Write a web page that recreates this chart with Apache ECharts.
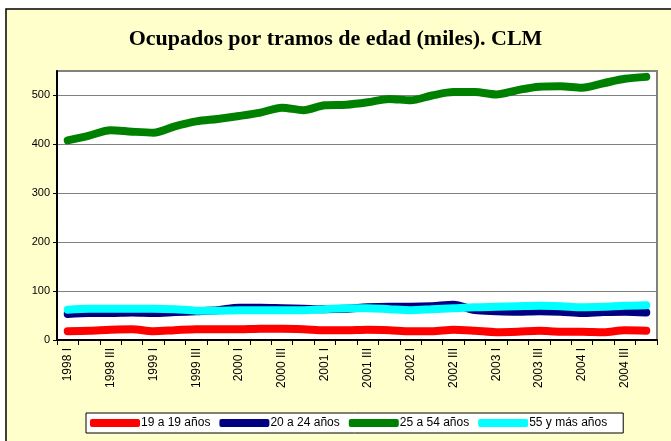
<!DOCTYPE html>
<html>
<head>
<meta charset="utf-8">
<script src="https://cdn.jsdelivr.net/npm/echarts@6/dist/echarts.min.js"></script>
<style>
  html, body { margin: 0; padding: 0; background: #fff; overflow: hidden; }
  #chart { width: 671px; height: 441px; }
</style>
</head>
<body>
<div id="chart"></div>
<script>
// trimestres 1998 I .. 2004 IV
var years = ['1998', '1999', '2000', '2001', '2002', '2003', '2004'];
var quarters = ['I', 'II', 'III', 'IV'];
var categories = [];
years.forEach(function (y) {
    quarters.forEach(function (q) { categories.push(y + ' ' + q); });
});

// ocupados (miles)
var edad16_19 = [18, 19, 21, 22, 18, 20, 22, 22, 22, 23, 23, 22, 20, 20,
                 21, 20, 18, 18, 21, 19, 16, 17, 19, 17, 17, 16, 20, 19];
var edad20_24 = [53, 55, 55, 56, 55, 57, 59, 61, 66, 66, 65, 64, 63, 64,
                 67, 68, 68, 69, 72, 61, 59, 58, 59, 58, 55, 57, 58, 56];
var edad25_54 = [408, 418, 429, 426, 424, 437, 447, 452, 458, 465, 475, 470, 480, 481,
                 486, 493, 490, 500, 507, 507, 502, 511, 518, 519, 516, 525, 534, 538];
var edad55 = [62, 64, 64, 64, 64, 63, 60, 60, 61, 61, 61, 61, 63, 65,
              65, 63, 61, 63, 65, 67, 68, 69, 70, 69, 67, 68, 70, 71];

var names = ['19 a 19 años', '20 a 24 años', '25 a 54 años', '55 y más años'];
var colors = ['#ff0000', '#000080', '#008000', '#00ffff'];
var values = [edad16_19, edad20_24, edad25_54, edad55];

var chart = echarts.init(document.getElementById('chart'));

var series = values.map(function (v, i) {
    return {
        name: names[i],
        type: 'line',
        data: v,
        smooth: 0.3,
        showSymbol: false,
        symbol: 'none',
        lineStyle: { color: colors[i], width: 8, cap: 'round', join: 'round' },
        itemStyle: { color: colors[i] }
    };
});

var option = {
    backgroundColor: '#ffffff',
    animation: false,
    graphic: [{
        type: 'rect',
        silent: true,
        z: -10,
        shape: { x: 6, y: 9, width: 700, height: 460 },
        style: { fill: '#ffffcc', stroke: '#000000', lineWidth: 1.5 }
    }],
    title: {
        text: 'Ocupados por tramos de edad (miles). CLM',
        left: 'center',
        top: 23,
        textStyle: {
            fontFamily: 'Liberation Serif',
            fontWeight: 'bold',
            fontSize: 22,
            color: '#000'
        }
    },
    legend: {
        left: 86,
        top: 413,
        orient: 'horizontal',
        itemWidth: 50,
        itemHeight: 8,
        itemGap: 9,
        icon: 'roundRect',
        backgroundColor: '#ffffff',
        borderColor: '#000000',
        borderWidth: 1,
        borderRadius: 0,
        padding: [4, 16, 4, 4],
        textStyle: { fontFamily: 'Liberation Sans', fontSize: 12, color: '#000', padding: [0, 0, 0, -4] },
        data: names
    },
    grid: {
        left: 57,
        top: 71,
        right: 14,
        bottom: 101,
        show: true,
        backgroundColor: '#ffffff',
        borderColor: '#808080',
        borderWidth: 2
    },
    xAxis: {
        type: 'category',
        data: categories,
        boundaryGap: true,
        axisLine: { lineStyle: { color: '#000', width: 2 } },
        axisTick: { show: true, interval: 0, length: 5, lineStyle: { color: '#000' } },
        axisLabel: {
            interval: 1,
            rotate: 90,
            margin: 8,
            fontFamily: 'Liberation Sans',
            fontSize: 12,
            color: '#000'
        },
        splitLine: { show: false }
    },
    yAxis: {
        type: 'value',
        min: 0,
        max: 550,
        interval: 100,
        axisLine: { show: true, lineStyle: { color: '#000', width: 2 } },
        axisTick: { show: true, length: 4, lineStyle: { color: '#000' } },
        axisLabel: {
            showMaxLabel: false,
            margin: 7,
            fontFamily: 'Liberation Sans',
            fontSize: 11,
            color: '#000'
        },
        splitLine: { show: true, lineStyle: { color: '#808080', width: 1 } }
    },
    series: series
};

chart.setOption(option);
</script>
</body>
</html>
